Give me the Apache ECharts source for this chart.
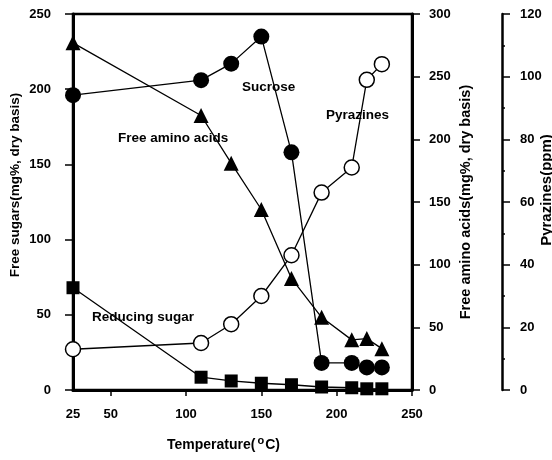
<!DOCTYPE html>
<html>
<head>
    <meta charset="UTF-8">
    <title>Free sugars, amino acids and pyrazines</title>
    <style>
        * { margin: 0; padding: 0; }
        html, body { width: 100%; height: 100%; background: #fff; }
        #chart { width: 552px; height: 460px; }
    </style>
</head>
<body>
    <div id="chart"></div>
    <script src="https://cdn.jsdelivr.net/npm/echarts@6/dist/echarts.min.js"></script>
    <script>
        // temperatures (°C)
        const temps = [25, 110, 130, 150, 170, 190, 210, 220, 230];
        // free sugars, mg% dry basis (left axis)
        const sucrose = [196, 206, 217, 235, 158, 18, 18, 15, 15];
        const reducingSugar = [68, 8.5, 6, 4.5, 3.5, 2, 1.5, 0.8, 0.8];
        // free amino acids, mg% dry basis (inner right axis)
        const aminoAcids = [277, 219, 181, 144, 89, 58, 40, 41, 33];
        // pyrazines, ppm (outer right axis)
        const pyrazines = [13, 15, 21, 30, 43, 63, 71, 99, 104];
        const xTicks = [25, 50, 100, 150, 200, 250];

        const font = 'Liberation Sans, Arial, sans-serif';
        const pair = (ys) => temps.map((t, i) => [t, ys[i]]);
        const axisText = { color: '#000', fontFamily: font, fontWeight: 'bold', fontSize: 13 };
        const nameText = (size, pad) => ({
            color: '#000', fontFamily: font, fontWeight: 'bold', fontSize: size, padding: pad
        });
        const thick = { show: true, onZero: false, lineStyle: { color: '#000', width: 3 } };
        const tick = { show: true, length: 8, lineStyle: { color: '#000', width: 1.5 } };
        const line = { color: '#000', width: 1.3 };
        const note = (text, x, y) => ({
            type: 'text', left: x, top: y,
            style: { text: text, font: 'bold 13.5px ' + font, fill: '#000' }
        });

        const chart = echarts.init(document.getElementById('chart'));
        chart.setOption({
            animation: false,
            backgroundColor: '#fff',
            grid: {
                left: 73, right: 140, top: 14, bottom: 70,
                outerBoundsMode: 'none',
                show: true, borderColor: '#000', borderWidth: 2.5
            },
            xAxis: {
                type: 'value', min: 25, max: 250,
                name: '{a|Temperature(}{s|o}{a|C)}',
                nameLocation: 'middle', nameGap: 45, nameMoveOverlap: false,
                nameTextStyle: {
                    padding: [0, 38, 0, 0],
                    rich: {
                        a: { color: '#000', fontFamily: font, fontWeight: 'bold', fontSize: 14 },
                        s: { color: '#000', fontFamily: font, fontWeight: 'bold', fontSize: 11, verticalAlign: 'top', padding: [0, 1, 9, 2] }
                    }
                },
                axisLine: thick,
                axisTick: Object.assign({}, tick, { customValues: [50, 100, 150, 200, 250], length: 6 }),
                axisLabel: Object.assign({}, axisText, { customValues: xTicks, margin: 18 }),
                splitLine: { show: false }
            },
            yAxis: [
                {
                    type: 'value', min: 0, max: 250, interval: 50, position: 'left',
                    name: 'Free sugars(mg%, dry basis)',
                    nameLocation: 'middle', nameGap: 51, nameMoveOverlap: false,
                    nameTextStyle: nameText(13.5, [0, 0, 0, 34]),
                    axisLine: thick, axisTick: tick,
                    axisLabel: Object.assign({}, axisText, { margin: 22 }),
                    splitLine: { show: false }
                },
                {
                    type: 'value', min: 0, max: 300, interval: 50, position: 'right',
                    name: 'Free amino acids(mg%, dry basis)',
                    nameLocation: 'middle', nameGap: 46, nameMoveOverlap: false,
                    nameTextStyle: nameText(14.5, 0),
                    axisLine: thick, axisTick: tick,
                    axisLabel: Object.assign({}, axisText, { margin: 17 }),
                    splitLine: { show: false }
                },
                {
                    type: 'value', min: 0, max: 120, interval: 20, position: 'right', offset: 90,
                    name: 'Pyrazines(ppm)',
                    nameLocation: 'middle', nameGap: 37, nameMoveOverlap: false,
                    nameTextStyle: nameText(15, [0, 0, 0, 24]),
                    axisLine: { show: true, lineStyle: { color: '#000', width: 2.5 } },
                    axisTick: tick,
                    minorTick: { show: true, splitNumber: 2, length: 3, lineStyle: { color: '#000', width: 1.5 } },
                    axisLabel: Object.assign({}, axisText, { margin: 18 }),
                    splitLine: { show: false }
                }
            ],
            series: [
                {
                    name: 'Sucrose', type: 'line', yAxisIndex: 0, data: pair(sucrose),
                    symbol: 'circle', symbolSize: 16, lineStyle: line,
                    itemStyle: { color: '#000' }
                },
                {
                    name: 'Reducing sugar', type: 'line', yAxisIndex: 0, data: pair(reducingSugar),
                    symbol: 'rect', symbolSize: 13, lineStyle: line,
                    itemStyle: { color: '#000' }
                },
                {
                    name: 'Free amino acids', type: 'line', yAxisIndex: 1, data: pair(aminoAcids),
                    symbol: 'triangle', symbolSize: 15, lineStyle: line,
                    itemStyle: { color: '#000' }
                },
                {
                    name: 'Pyrazines', type: 'line', yAxisIndex: 2, data: pair(pyrazines),
                    symbol: 'circle', symbolSize: 15, lineStyle: line,
                    itemStyle: { color: '#fff', borderColor: '#000', borderWidth: 1.5 }
                }
            ],
            graphic: [
                note('Sucrose', 242, 80),
                note('Free amino acids', 118, 131),
                note('Pyrazines', 326, 108),
                note('Reducing sugar', 92, 310)
            ]
        });
    </script>
</body>
</html>
